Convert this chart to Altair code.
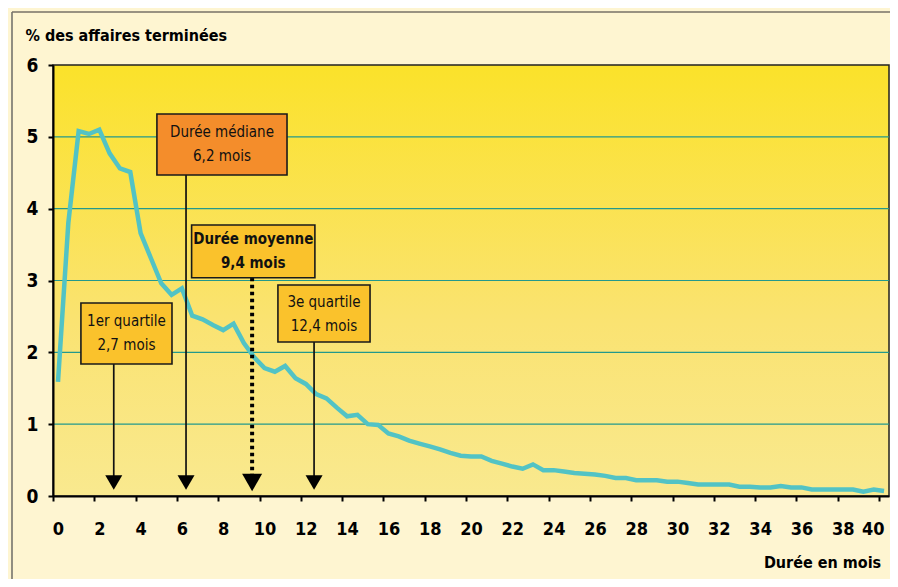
import altair as alt
import pandas as pd

# ---- data ----
months = [0, 0.5, 1, 1.5, 2, 2.5, 3, 3.5, 4, 4.5, 5, 5.5, 6, 6.5, 7, 7.5, 8, 8.5, 9, 9.5,
          10, 10.5, 11, 11.5, 12, 12.5, 13, 13.5, 14, 14.5, 15, 15.5, 16, 16.5, 17, 17.5,
          18, 18.5, 19, 19.5, 20, 20.5, 21, 21.5, 22, 22.5, 23, 23.5, 24, 24.5, 25, 25.5,
          26, 26.5, 27, 27.5, 28, 28.5, 29, 29.5, 30, 30.5, 31, 31.5, 32, 32.5, 33, 33.5,
          34, 34.5, 35, 35.5, 36, 36.5, 37, 37.5, 38, 38.5, 39, 39.5, 40]
pct = [1.59, 3.80, 5.08, 5.04, 5.10, 4.77, 4.56, 4.51, 3.66, 3.31, 2.96, 2.80, 2.89, 2.51,
       2.46, 2.38, 2.31, 2.40, 2.13, 1.93, 1.78, 1.73, 1.81, 1.64, 1.56, 1.42, 1.36, 1.23,
       1.11, 1.13, 1.00, 0.99, 0.87, 0.83, 0.77, 0.73, 0.69, 0.65, 0.60, 0.56, 0.55, 0.55,
       0.49, 0.45, 0.41, 0.38, 0.44, 0.36, 0.36, 0.34, 0.32, 0.31, 0.30, 0.28, 0.25, 0.25,
       0.22, 0.22, 0.22, 0.20, 0.20, 0.18, 0.16, 0.16, 0.16, 0.16, 0.13, 0.13, 0.12, 0.12,
       0.14, 0.12, 0.12, 0.09, 0.09, 0.09, 0.09, 0.09, 0.06, 0.09, 0.07]

ann_line1 = ["1er quartile", "Durée médiane", "Durée moyenne", "3e quartile"]
ann_line2 = ["2,7 mois", "6,2 mois", "9,4 mois", "12,4 mois"]
ann_values = [2.7, 6.2, 9.4, 12.4]
ann_kind = ["q", "med", "mean", "q"]

y_ticks = [0, 1, 2, 3, 4, 5, 6]
grid_vals = [1, 2, 3, 4, 5]
x_tick_vals = list(range(0, 41))

# ---- layout of annotation boxes (data units) ----
box_x0 = [1.11, 4.79, 6.47, 10.65]
box_x1 = [5.52, 11.09, 12.44, 15.11]
box_y0 = [1.838, 4.469, 3.039, 2.144]
box_y1 = [2.687, 5.318, 3.773, 2.937]
arrow_tip_y = 0.188

FONT = "Liberation Sans Narrow, DejaVu Sans Condensed, Roboto, sans-serif"
BG = "#FEF5D1"
W, H = 836, 431

line_df = pd.DataFrame({"mois": months, "pct": pct})
ann_df = pd.DataFrame({
    "l1": ann_line1, "l2": ann_line2, "value": ann_values, "kind": ann_kind,
    "x0": box_x0, "x1": box_x1, "y0": box_y0, "y1": box_y1,
})
ann_df["xc"] = (ann_df["x0"] + ann_df["x1"]) / 2
ann_df["yc"] = (ann_df["y0"] + ann_df["y1"]) / 2
ann_df["tip"] = arrow_tip_y
grid_df = pd.DataFrame({"g": grid_vals})

xscale = alt.Scale(domain=[-0.242, 40.24], nice=False, zero=False)
yscale = alt.Scale(domain=[0, 6], nice=False)

x_axis = alt.Axis(
    values=x_tick_vals,
    labelExpr="datum.value % 2 === 0 ? datum.label : ''",
    tickOffset=-5, labelOffset=5, tickSize=5, tickWidth=2, tickColor="black",
    domainColor="black", domainWidth=2,
    labelFont=FONT, labelFontSize=18, labelFontWeight="bold", labelColor="black",
    labelAlign={"expr": "datum.value === 40 ? 'right' : 'center'"},
    labelPadding=19, labelOverlap=False, labelFlush=False, grid=False,
    title="Durée en mois", titleFont=FONT, titleFontSize=16, titleFontWeight="bold",
    titleColor="black", titleX=769, titleY=71, titleAlign="center",
    titleBaseline="alphabetic", zindex=1,
)
y_axis = alt.Axis(
    values=y_ticks, format="d", tickSize=5, tickWidth=2, tickColor="black",
    domainColor="black", domainWidth=2,
    labelFont=FONT, labelFontSize=19, labelFontWeight="bold", labelColor="black",
    labelPadding=10, grid=False,
    title="% des affaires terminées", titleFont=FONT, titleFontSize=16,
    titleFontWeight="bold", titleColor="black", titleAngle=0, titleAlign="left",
    titleBaseline="alphabetic", titleX=-28, titleY=-25, zindex=1,
)

gradient = alt.LinearGradient(
    gradient="linear",
    stops=[alt.GradientStop(color="#FBE22A", offset=0),
           alt.GradientStop(color="#FAE372", offset=0.6),
           alt.GradientStop(color="#F9E98F", offset=1)],
    x1=0, x2=0, y1=0, y2=1,
)

bg = alt.Chart(pd.DataFrame({"a": [0]})).mark_rect(
    fill=gradient, stroke="#222222", strokeWidth=1.5
).encode(x=alt.value(0), x2=alt.value(W), y=alt.value(0), y2=alt.value(H))

grid = alt.Chart(grid_df).mark_rule(color="#23998C", strokeWidth=1.2).encode(
    y=alt.Y("g:Q", scale=yscale, axis=y_axis)
)

line = alt.Chart(line_df).mark_line(color="#52C3C5", strokeWidth=4.5, strokeJoin="miter").encode(
    x=alt.X("mois:Q", scale=xscale, axis=x_axis),
    y=alt.Y("pct:Q", scale=yscale, axis=y_axis),
)

solid_arrows = alt.Chart(ann_df).transform_filter("datum.kind !== 'mean'").mark_rule(
    color="#111111", strokeWidth=1.7
).encode(x=alt.X("value:Q", scale=xscale), y=alt.Y("y0:Q", scale=yscale), y2="tip:Q")

dotted_arrow = alt.Chart(ann_df).transform_filter("datum.kind === 'mean'").mark_rule(
    color="#000000", strokeWidth=4, strokeDash=[3.5, 3.5]
).encode(x=alt.X("value:Q", scale=xscale), y=alt.Y("y0:Q", scale=yscale), y2="tip:Q")

heads = alt.Chart(ann_df).transform_filter("datum.kind !== 'mean'").mark_point(
    shape="triangle-down", filled=True, color="black", size=289, opacity=1
).encode(x=alt.X("value:Q", scale=xscale), y=alt.Y("tip:Q", scale=yscale))

head_mean = alt.Chart(ann_df).transform_filter("datum.kind === 'mean'").mark_point(
    shape="triangle-down", filled=True, color="black", size=400, opacity=1
).encode(x=alt.X("value:Q", scale=xscale), y=alt.Y("tip:Q", scale=yscale))

boxes = alt.Chart(ann_df).mark_rect(stroke="#1a1a1a", strokeWidth=1.6).encode(
    x=alt.X("x0:Q", scale=xscale), x2="x1:Q",
    y=alt.Y("y0:Q", scale=yscale), y2="y1:Q",
    fill=alt.Fill("kind:N", scale=alt.Scale(domain=["q", "med", "mean"],
                                             range=["#FAC22C", "#F48D2B", "#FAC22C"]),
                  legend=None),
)


def text_layer(field, dy, mean):
    flt = "datum.kind === 'mean'" if mean else "datum.kind !== 'mean'"
    return alt.Chart(ann_df).transform_filter(flt).mark_text(
        font=FONT, fontSize=15, fontWeight="bold" if mean else "normal",
        color="#111111", baseline="middle", align="center", dy=dy
    ).encode(x=alt.X("xc:Q", scale=xscale), y=alt.Y("yc:Q", scale=yscale),
             text=f"{field}:N")


texts = [text_layer("l1", -12, False), text_layer("l2", 12, False),
         text_layer("l1", -12, True), text_layer("l2", 12, True)]

frame_left = alt.Chart(pd.DataFrame({"a": [0]})).mark_rule(color="#555555", strokeWidth=1.3).encode(
    x=alt.value(-41), y=alt.value(-53), y2=alt.value(H + 90)
)
frame_top = alt.Chart(pd.DataFrame({"a": [0]})).mark_rule(color="#777066", strokeWidth=1.3).encode(
    x=alt.value(-41), x2=alt.value(W + 20), y=alt.value(-53)
)

chart = alt.layer(
    bg, grid, line, solid_arrows, dotted_arrow, heads, head_mean, boxes, *texts,
    frame_left, frame_top
).properties(
    width=W, height=H,
    padding={"left": 45, "top": 57, "right": 1, "bottom": 83},
    autosize=alt.AutoSizeParams(type="none"),
    background=BG,
).configure_view(stroke=None)

chart.save("out.html", embed_options={"renderer": "svg", "actions": False})
